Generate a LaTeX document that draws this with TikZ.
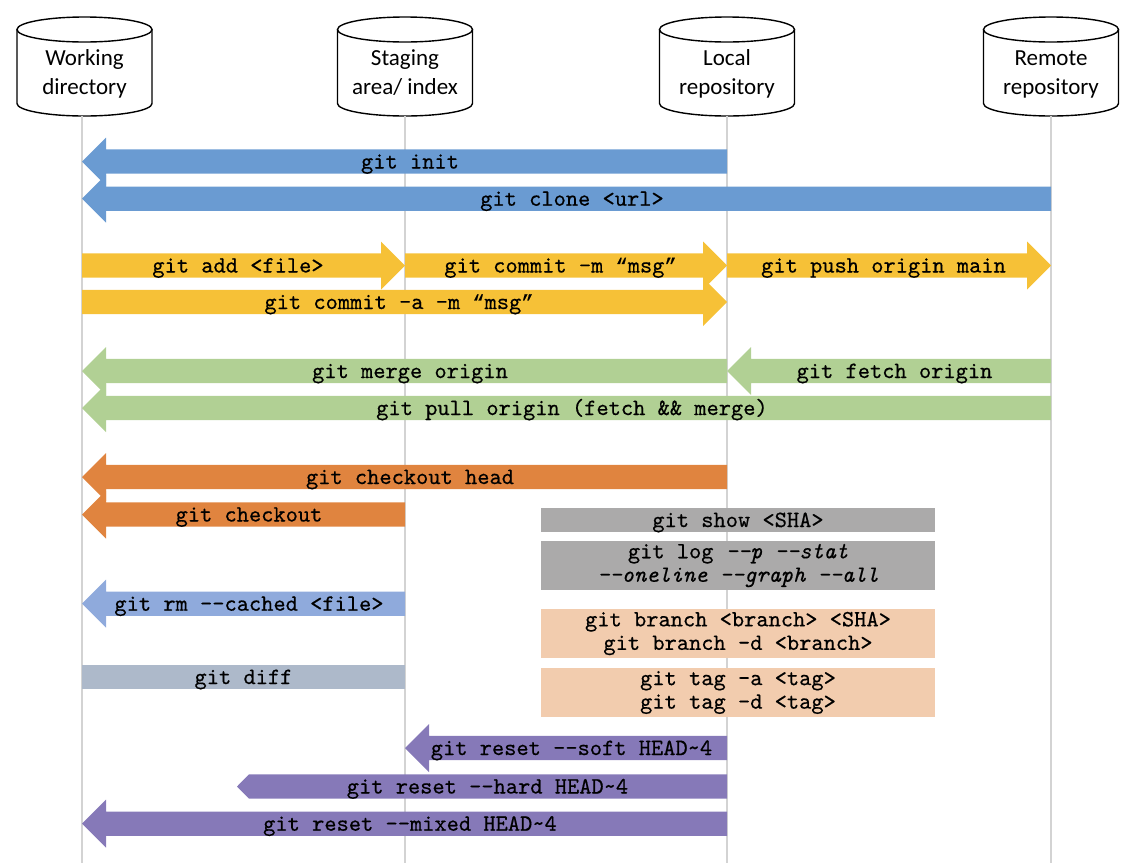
\documentclass[tikz,border=0pt]{standalone}
\usepackage{fontspec}
\newfontfamily\calfont{Carlito}
\setmonofont{lmmono10-regular.otf}[FakeBold=0.45,
  ItalicFont=lmmono10-italic.otf, ItalicFeatures={FakeBold=0.45}]
\newfontfamily\quotefont{Liberation Mono}[FakeBold=0.45]
\newcommand\qopen{{\quotefont\fontsize{20.3}{23.5}\selectfont “}}
\newcommand\qclose{{\quotefont\fontsize{20.3}{23.5}\selectfont ”}}
\usetikzlibrary{calc}

\definecolor{cblue}{HTML}{6A9BD2}
\definecolor{cyellow}{HTML}{F6C137}
\definecolor{cgreen}{HTML}{B1D094}
\definecolor{corange}{HTML}{E0843F}
\definecolor{clblue}{HTML}{8FAADC}
\definecolor{cslate}{HTML}{ADB9CA}
\definecolor{cgray}{HTML}{ABAAAA}
\definecolor{cpeach}{HTML}{F2CCAE}
\definecolor{cpurple}{HTML}{8679B8}
\definecolor{lifegray}{HTML}{D3D3D3}

\tikzset{
  x=1pt, y=1pt,
  head len/.store in=\ahlen,
  head half/.store in=\ahhalf,
  shaft half/.store in=\ashalf,
  head len=24, head half=24, shaft half=12.2,
  % a filled block arrow from the start point to the target point
  blockarrow/.style={to path={
    let \p1=(\tikztostart), \p2=(\tikztotarget),
        \p3=($(\tikztotarget)!\ahlen pt!(\tikztostart)$) in
    (\x1,\y1+\ashalf pt) -- (\x3,\y1+\ashalf pt) -- (\x3,\y1+\ahhalf pt) -- (\p2)
    -- (\x3,\y1-\ahhalf pt) -- (\x3,\y1-\ashalf pt) -- (\x1,\y1-\ashalf pt) -- cycle}},
  lifeline/.style={draw=lifegray, line width=2pt},
  dbline/.style={draw=black, line width=1.4pt},
  dbtext/.style={font=\calfont\fontsize{23}{28.3}\selectfont, align=center, inner sep=0pt},
  cmd/.style={font=\ttfamily\fontsize{23.3}{23.5}\selectfont, inner sep=0pt,
    text height=14pt, text depth=0pt},
  cmdbox/.style={cmd, minimum width=394pt, minimum height=24.4pt},
  cmdbox2/.style={font=\ttfamily\fontsize{23.3}{23.5}\selectfont, inner sep=0pt,
    align=center, minimum width=394pt, minimum height=49pt},
}

% storage cylinder with its label and lifeline
\newcommand\dbcyl[5]{%
  \draw[dbline] (#2,-29.5) ellipse [x radius=67.5, y radius=12.5];
  \draw[dbline] (#2-67.5,-29.5) -- (#2-67.5,-103.5)
    arc[start angle=180, end angle=360, x radius=67.5, y radius=12.5]
    -- (#2+67.5,-29.5);
  \node[dbtext] (#1) at (#2,-74.2) {#4\strut\\#5\strut};
  \coordinate (#1-foot) at (#3,-116);
  \draw[lifeline] (#1-foot) -- (#3,-863);
}

% command arrow: name, style, tail, tip, row, label
\newcommand\cmdarrow[6]{%
  \coordinate (#1-t) at (#3 |- 0,#5);
  \coordinate (#1-h) at (#4 |- 0,#5);
  \path[#2] (#1-t) to[blockarrow] (#1-h);
  \node[cmd] (#1) at ($(#1-t)!0.5!(#1-h)!5.5pt!(#1-t)$) {#6};
}

\begin{document}
\begin{tikzpicture}
\useasboundingbox (0,0) rectangle (1135,-863);

\dbcyl{wd}{84.5}{82}{Working}{directory}
\dbcyl{sa}{405}{405}{Staging}{area/ index}
\dbcyl{lr}{727}{727}{Local}{repository}
\dbcyl{rr}{1051}{1051}{Remote}{repository}

% create / clone
\cmdarrow{init}{fill=cblue}{lr-foot}{wd-foot}{-161.5}{git init}
\cmdarrow{clone}{fill=cblue}{rr-foot}{wd-foot}{-198.7}{git clone <url>}

% add / commit / push
\cmdarrow{add}{fill=cyellow}{wd-foot}{sa-foot}{-265.5}{git add <file>}
\cmdarrow{commit}{fill=cyellow}{sa-foot}{lr-foot}{-265.5}{git commit -m \qopen msg\qclose}
\cmdarrow{push}{fill=cyellow}{lr-foot}{rr-foot}{-265.5}{git push origin main}
\cmdarrow{commita}{fill=cyellow}{wd-foot}{lr-foot}{-302}{git commit -a -m \qopen msg\qclose}

% fetch / merge / pull
\cmdarrow{merge}{fill=cgreen}{lr-foot}{wd-foot}{-371}{git merge origin}
\cmdarrow{fetch}{fill=cgreen}{rr-foot}{lr-foot}{-371}{git fetch origin}
\cmdarrow{pull}{fill=cgreen}{rr-foot}{wd-foot}{-408}{git pull origin (fetch \&\& merge)}

% checkout
\cmdarrow{cohead}{fill=corange}{lr-foot}{wd-foot}{-477}{git checkout head}
\cmdarrow{co}{fill=corange}{sa-foot}{wd-foot}{-514.5}{git checkout}

% unstage
\cmdarrow{rm}{fill=clblue}{sa-foot}{wd-foot}{-603.7}{git rm -{}-cached <file>}

% inspection and refs
\node[cmdbox, fill=cgray] (show) at (738,-520) {git show <SHA>};
\node[cmdbox2, fill=cgray] (log) at (738,-565.5)
  {git log \textit{-{}-p -{}-stat}\\\textit{-{}-oneline -{}-graph -{}-all}};
\node[cmdbox2, fill=cpeach] (branch) at (738,-633.5)
  {git branch <branch> <SHA>\\git branch -d <branch>};
\node[cmdbox2, fill=cpeach] (tag) at (738,-692.5)
  {git tag -a <tag>\\git tag -d <tag>};
\node[cmd, fill=cslate, minimum width=323pt, minimum height=24pt] (diff)
  at (243.5,-677) {git diff};

% reset
\coordinate (hardtip) at (237,-786.5);
\cmdarrow{soft}{fill=cpurple}{lr-foot}{sa-foot}{-748}{git reset -{}-soft HEAD\textasciitilde 4}
\cmdarrow{hard}{fill=cpurple, head len=12, head half=12.2}{lr-foot}{hardtip}{-786.5}{git reset -{}-hard HEAD\textasciitilde 4}
\cmdarrow{mixed}{fill=cpurple}{lr-foot}{wd-foot}{-823.7}{git reset -{}-mixed HEAD\textasciitilde 4}
\end{tikzpicture}
\end{document}
